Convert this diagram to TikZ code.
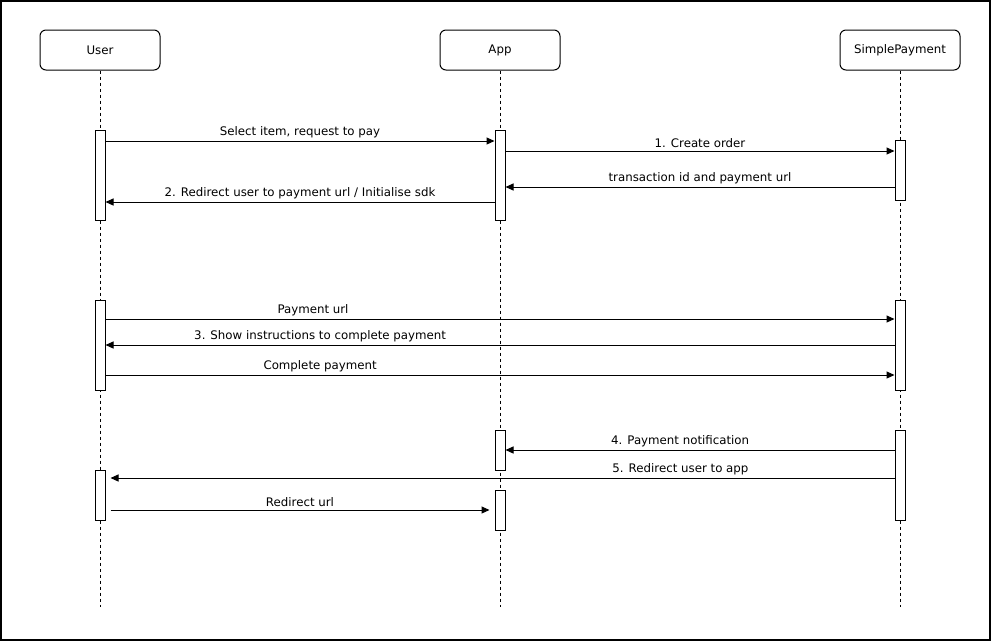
\documentclass[tikz,border=0pt]{standalone}
\usepackage{fontspec}
\setmainfont{DejaVu Sans}
\usetikzlibrary{arrows.meta,positioning}

\tikzset{
  head/.style={draw, fill=white, rounded corners=6pt, line width=1pt,
               minimum width=120pt, minimum height=40pt, font=\fontsize{11.8}{14}\selectfont},
  life/.style={line width=1pt, dash pattern=on 3pt off 3pt},
  act/.style={draw, fill=white, line width=1pt, minimum width=10pt, inner sep=0pt},
  msg/.style={line width=1pt, -{Triangle[length=8pt,width=7pt]}},
  lbl/.style={above, font=\fontsize{11.8}{14}\selectfont, inner sep=2.5pt},
}

\begin{document}
\begin{tikzpicture}[x=1pt, y=-1pt]

\useasboundingbox (0,0) rectangle (991,641);
\draw[line width=2pt, fill=white] (1,1) rectangle (990,640);

% Participants
\node[head] (user) at (100,50) {User};
\node[head] (app) at (500,50) {App};
\node[head] (pay) at (900,50) {SimplePayment};

% Lifelines
\coordinate (userend) at (100,607);
\coordinate (append) at (500,607);
\coordinate (payend) at (900,607);
\draw[life] (user) -- (userend);
\draw[life] (app) -- (append);
\draw[life] (pay) -- (payend);

% Activations, first block
\node[act, minimum height=90pt] (u1) at (100,175) {};
\node[act, minimum height=90pt] (a1) at (500,175) {};
\node[act, minimum height=60pt] (p1) at (900,170) {};

% Activations, second block
\node[act, minimum height=90pt] (u2) at (100,345) {};
\node[act, minimum height=90pt] (p2) at (900,345) {};

% Activations, third block
\node[act, minimum height=40pt] (a2) at (500,450) {};
\node[act, minimum height=90pt] (p3) at (900,475) {};
\node[act, minimum height=50pt] (u3) at (100,495) {};
\node[act, minimum height=40pt] (a3) at (500,510) {};

% Messages
\draw[msg] (u1.east |- 0,141) -- node[lbl] {Select item, request to pay} (a1.west |- 0,141);
\draw[msg] (a1.east |- 0,151) -- node[lbl] {1. Create order} (p1.west |- 0,151);
\draw[msg] (p1.west |- 0,187) -- node[lbl] {transaction id and payment url} (a1.east |- 0,187);
\draw[msg] (a1.west |- 0,202) -- node[lbl] {2. Redirect user to payment url / Initialise sdk} (u1.east |- 0,202);

\draw[msg] (u2.east |- 0,319) -- node[lbl, pos=0.263] {Payment url} (p2.west |- 0,319);
\draw[msg] (p2.west |- 0,345) -- node[lbl, pos=0.728] {3. Show instructions to complete payment} (u2.east |- 0,345);
\draw[msg] (u2.east |- 0,375) -- node[lbl, pos=0.272] {Complete payment} (p2.west |- 0,375);

\draw[msg] (p3.west |- 0,450) -- node[lbl, pos=0.551] {4. Payment notification} (a2.east |- 0,450);
\draw[msg] (p3.west |- 0,478) -- node[lbl, pos=0.273] {5. Redirect user to app} ([xshift=5pt]u3.east |- 0,478);
\draw[msg] ([xshift=5pt]u3.east |- 0,510) -- node[lbl] {Redirect url} ([xshift=-5pt]a3.west |- 0,510);

\end{tikzpicture}
\end{document}
